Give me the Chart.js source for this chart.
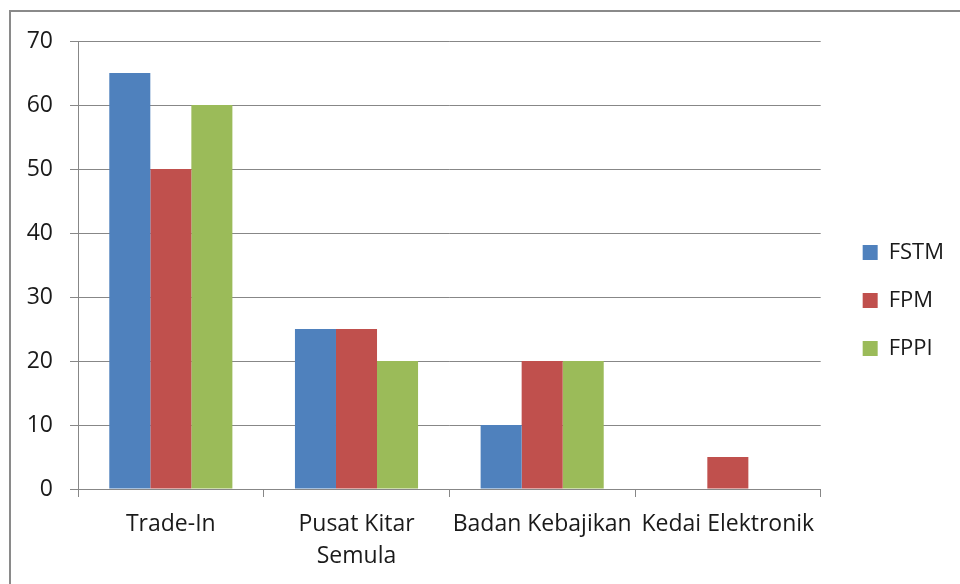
<!DOCTYPE html>
<html>
<head>
<meta charset="utf-8">
<script src="https://cdn.jsdelivr.net/npm/chart.js@4/dist/chart.umd.min.js"></script>
<style>
  html, body { margin: 0; padding: 0; background: #ffffff; }
  body { width: 960px; height: 584px; position: relative; overflow: hidden; }
  #frame { position: absolute; left: 9px; top: 10px; width: 1000px; height: 700px;
           border-left: 2px solid #8a8a8a; border-top: 2px solid #8a8a8a; box-sizing: border-box; }
  #wrap { position: absolute; left: 0; top: 0; width: 960px; height: 584px; }
</style>
</head>
<body>
<div id="frame"></div>
<div id="wrap"><canvas id="c" width="960" height="584"></canvas></div>
<script>
const categories = ["Trade-In", ["Pusat Kitar", "Semula"], "Badan Kebajikan", "Kedai Elektronik"];
const seriesNames = ["FSTM", "FPM", "FPPI"];
const fstmValues = [65, 25, 10, 0];
const fpmValues = [50, 25, 20, 5];
const fppiValues = [60, 20, 20, 0];
const yTicks = [0, 10, 20, 30, 40, 50, 60, 70];

const colors = ["#4F81BD", "#C0504D", "#9BBB59"];
const FONT = "'Open Sans', 'Liberation Sans', sans-serif";
const gridColor = "#878787";

const legendShift = {
  id: 'legendShift',
  afterLayout(chart) {
    const lg = chart.legend;
    if (!lg) return;
    lg.left += 16; lg.right += 16;
    lg.top -= 12; lg.bottom -= 12;
  }
};

new Chart(document.getElementById('c'), {
  type: 'bar',
  data: {
    labels: categories,
    datasets: [
      { label: seriesNames[0], data: fstmValues, backgroundColor: colors[0] },
      { label: seriesNames[1], data: fpmValues, backgroundColor: colors[1] },
      { label: seriesNames[2], data: fppiValues, backgroundColor: colors[2] }
    ]
  },
  options: {
    responsive: false,
    animation: false,
    devicePixelRatio: 1,
    layout: { padding: { top: 41, left: 0, right: 22, bottom: 0 } },
    datasets: { bar: { barPercentage: 1.0, categoryPercentage: 0.663 } },
    plugins: {
      legend: {
        position: 'right',
        labels: {
          boxWidth: 15, boxHeight: 15, padding: 26,
          color: '#1a1a1a',
          font: { family: FONT, size: 22 }
        }
      },
      tooltip: { enabled: false }
    },
    scales: {
      x: {
        grid: { display: true, drawOnChartArea: false, drawTicks: true, tickLength: 8, color: gridColor, offset: true },
        border: { display: true, color: gridColor, width: 1 },
        ticks: { color: '#1a1a1a', font: { family: FONT, size: 23, lineHeight: 1.4 }, padding: 11, maxRotation: 0, autoSkip: false },
        afterFit(scale) { scale.height = 95; }
      },
      y: {
        min: 0, max: 70,
        afterBuildTicks(scale) { scale.ticks = yTicks.map(v => ({ value: v })); },
        grid: { color: gridColor, drawTicks: true, tickLength: 8 },
        border: { display: true, color: gridColor, width: 1 },
        ticks: { color: '#1a1a1a', font: { family: FONT, size: 23 }, padding: 17 },
        afterFit(scale) { scale.width = 78; }
      }
    }
  },
  plugins: [legendShift]
});
</script>
</body>
</html>
